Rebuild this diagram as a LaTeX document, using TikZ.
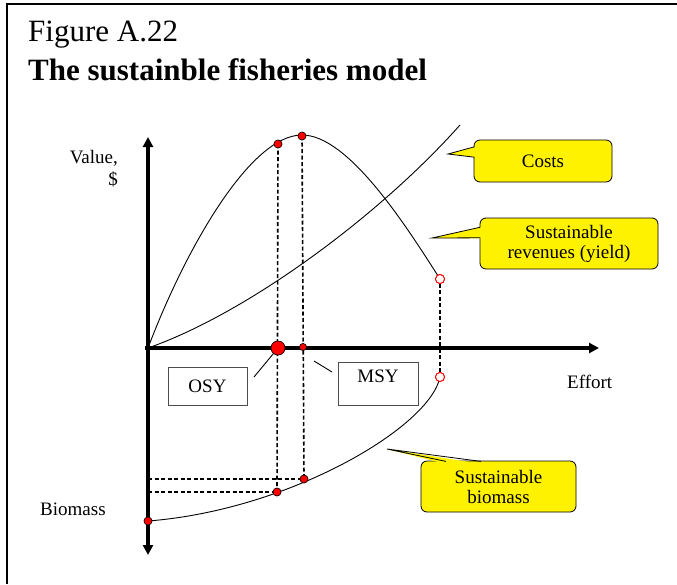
\documentclass[tikz,border=0pt]{standalone}
\usepackage{fontspec}
\setmainfont{Liberation Serif}
\usetikzlibrary{arrows.meta}
\begin{document}
\begin{tikzpicture}[x=1pt,y=-1pt,
  axis/.style={line width=3.5pt},
  guide/.style={line width=1.6pt,dash pattern=on 4pt off 2.5pt},
  curve/.style={line width=0.9pt},
  reddot/.style={circle,fill=red,draw=black,line width=0.5pt,inner sep=0pt,minimum size=8pt},
  opendot/.style={circle,fill=white,draw=red,line width=0.9pt,inner sep=0pt,minimum size=9pt},
  lbl/.style={font=\fontsize{19}{20}\selectfont,inner sep=0pt},
  callbox/.style={draw=black,fill=yellow,line width=0.8pt,rounded corners=6pt,align=center,
    font=\fontsize{19}{20}\selectfont,inner sep=0pt},
  namebox/.style={draw=black!70,fill=white,line width=0.9pt,font=\fontsize{19}{20}\selectfont,inner sep=0pt},
  pointer/.style={line width=0.9pt}
]
\useasboundingbox (0,0) rectangle (677,584);
\fill[white] (0,0) rectangle (677,584);
% frame
\draw[line width=2pt] (7,584) -- (7,4) -- (677,4);

% titles
\node[anchor=base west,inner sep=0pt,font=\fontsize{31}{34}\selectfont] (t1) at (28,41) {Figure A.22};
\node[anchor=base west,inner sep=0pt,font=\fontsize{31}{34}\selectfont\bfseries] (t2) at (28,80) {The sustainble fisheries model};

% axis labels
\node[lbl,anchor=base east] (val) at (118,163) {Value,};
\node[lbl,anchor=base east] (dol) at (118,185) {\$};
\node[lbl,anchor=base west] (eff) at (567,388) {Effort};
\node[lbl,anchor=base west] (bio) at (40,515) {Biomass};

% key points
\coordinate (orig) at (148,348);
\coordinate (costEnd) at (460,125);
\node[reddot] (rOsy) at (278,144) {};
\node[reddot] (rMsy) at (302,136) {};
\node[opendot] (rEnd) at (440,279) {};
\node[reddot,minimum size=14pt] (aOsy) at (278,348) {};
\node[reddot,minimum size=7pt] (aMsy) at (303,347) {};
\node[reddot] (bOsy) at (277,492) {};
\node[reddot] (bMsy) at (304,479) {};
\node[opendot] (bEnd) at (440,377) {};
\node[reddot] (bZero) at (148,521) {};
\coordinate (hOsy) at (148,492);
\coordinate (hMsy) at (148,479);

% curves
\draw[curve] (orig) .. controls (185,250) and (250,135) .. (302,135)
                    .. controls (348,135) and (405,224) .. (rEnd.center);
\draw[curve] (orig) .. controls (248,313) and (380,215) .. (costEnd);
\draw[curve] (bZero.center) .. controls (290,510) and (430,427) .. (bEnd.center);

% dashed guides
\draw[guide] (rOsy.center) -- (bOsy.center);
\draw[guide] (rMsy.center) -- (bMsy.center);
\draw[guide] (rEnd) -- (bEnd);
\draw[guide] (hMsy) -- (bMsy.center);
\draw[guide] (hOsy) -- (bOsy.center);

% axes
\coordinate (yTop) at (148,137);
\coordinate (yBot) at (148,555);
\coordinate (xLeft) at (145,348);
\coordinate (xRight) at (599,348);
\draw[axis,{Triangle[length=10pt,width=10pt]}-{Triangle[length=10pt,width=10pt]}] (yBot) -- (yTop);
\draw[axis,-{Triangle[length=10pt,width=10pt]}] (xLeft) -- (xRight);

% redraw dots on top
\foreach \n/\s/\st in {rOsy/8/reddot,rMsy/8/reddot,aOsy/14/reddot,aMsy/7/reddot,bOsy/8/reddot,bMsy/8/reddot,bZero/8/reddot,rEnd/9/opendot,bEnd/9/opendot}
  \node[\st,minimum size=\s pt] at (\n) {};

% OSY / MSY boxes
\node[namebox,minimum width=79pt,minimum height=38pt] (osy) at (207.5,386) {OSY};
\node[namebox,minimum width=80pt,minimum height=43pt,text depth=14pt] (msy) at (378,383.5) {MSY};
\coordinate (osyP) at (254,377);
\coordinate (msyP) at (332,372);
\draw[pointer] (osyP) -- (aOsy);
\coordinate (msyQ) at (314,361);
\draw[pointer] (msyQ) -- (msyP);

% callouts
\node[callbox,minimum width=138pt,minimum height=42pt] (costs) at (543,161) {Costs};
\coordinate (costsTip) at (448,154);
\fill[yellow] (costsTip) -- (477,146.6) -- (477,157.4) -- cycle;
\draw[line width=0.8pt] (474.4,146.8) -- (costsTip) -- (474.4,157.2);

\node[callbox,minimum width=178pt,minimum height=51pt] (rev) at (569,243.5) {Sustainable\\revenues (yield)};
\coordinate (revTip) at (432,238);
\fill[yellow] (revTip) -- (483,226.6) -- (483,238.4) -- cycle;
\draw[line width=0.8pt] (480.4,227.2) -- (revTip) -- (480.4,237.8);

\node[callbox,minimum width=155pt,minimum height=51pt] (bms) at (498.5,486.5) {Sustainable\\biomass};
\coordinate (bmsTip) at (387,449);
\fill[yellow] (bmsTip) -- (446,464) -- (482,464) -- cycle;
\draw[line width=0.8pt] (446,461.4) -- (bmsTip) -- (481,461.4);
\end{tikzpicture}
\end{document}
